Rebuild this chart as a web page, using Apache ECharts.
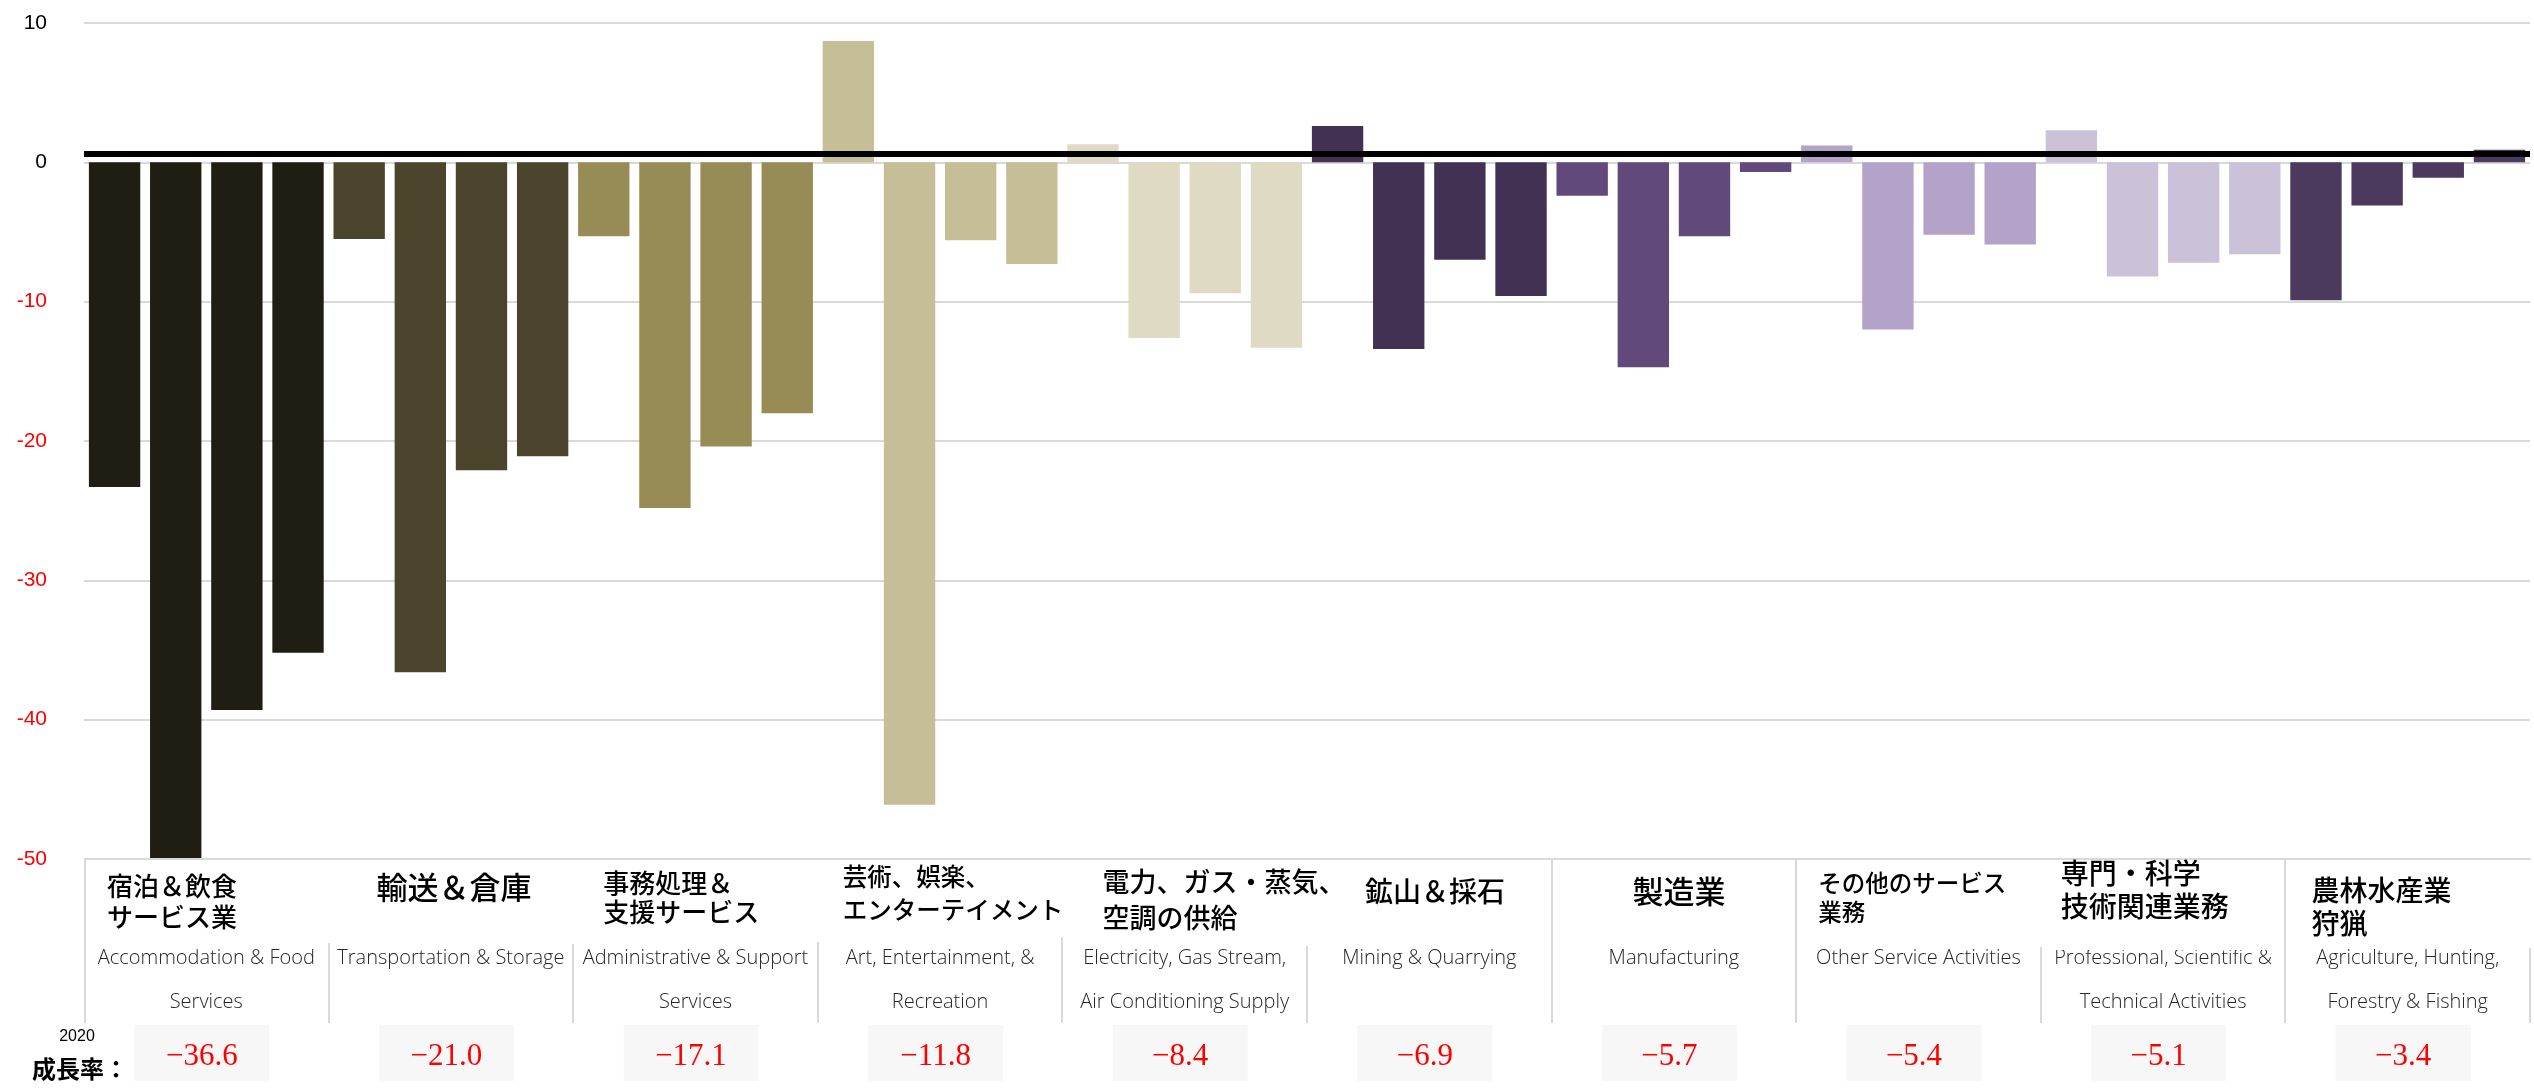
<!DOCTYPE html>
<html>
<head>
<meta charset="utf-8">
<script src="https://cdn.jsdelivr.net/npm/echarts@6/dist/echarts.min.js"></script>
<style>
html,body{margin:0;padding:0;background:#fff;}
#chart{width:2534px;height:1089px;}
</style>
</head>
<body>
<div id="chart"></div>
<script>
// ---------- DATA ----------
const sectorsJa = [
  ["宿泊＆飲食", "サービス業"],
  ["輸送＆倉庫"],
  ["事務処理＆", "支援サービス"],
  ["芸術、娯楽、", "エンターテイメント"],
  ["電力、ガス・蒸気、", "空調の供給"],
  ["鉱山＆採石"],
  ["製造業"],
  ["その他のサービス", "業務"],
  ["専門・科学", "技術関連業務"],
  ["農林水産業", "狩猟"]
];
const sectorsEn = [
  ["Accommodation & Food", "Services"],
  ["Transportation & Storage"],
  ["Administrative & Support", "Services"],
  ["Art, Entertainment, &", "Recreation"],
  ["Electricity, Gas Stream,", "Air Conditioning Supply"],
  ["Mining & Quarrying"],
  ["Manufacturing"],
  ["Other Service Activities"],
  ["Professional, Scientific &", "Technical Activities"],
  ["Agriculture, Hunting,", "Forestry & Fishing"]
];
const quarters = ["Q1", "Q2", "Q3", "Q4"];

// quarterly growth (%), 4 bars per sector
const accommodation = [-23.3, -51.0, -39.3, -35.2];
const transportation = [-5.5, -36.6, -22.1, -21.1];
const administrative = [-5.3, -24.8, -20.4, -18.0];
const artEntertainment = [8.7, -46.1, -5.6, -7.3];
const electricityGas = [1.3, -12.6, -9.4, -13.3];
const miningQuarrying = [2.6, -13.4, -7.0, -9.6];
const manufacturing = [-2.4, -14.7, -5.3, -0.7];
const otherServices = [1.2, -12.0, -5.2, -5.9];
const professional = [2.3, -8.2, -7.2, -6.6];
const agriculture = [-9.9, -3.1, -1.1, 0.9];
const quarterlyGrowth = [accommodation, transportation, administrative, artEntertainment,
  electricityGas, miningQuarrying, manufacturing, otherServices, professional, agriculture];

// 2020 annual growth rate per sector
const annualGrowth = [-36.6, -21.0, -17.1, -11.8, -8.4, -6.9, -5.7, -5.4, -5.1, -3.4];

// y axis ticks
const yMin = -50, yMax = 10, yStep = 10;
const referenceLine = 0.6;
const yearLabel = "2020";
const rowLabel = "成長率：";

// ---------- STYLE / LAYOUT ----------
const sectorColors = ["#201e12", "#4b452d", "#978c55", "#c6be97", "#dfdac3",
  "#413153", "#614a7b", "#b3a3c8", "#cbc1d9", "#4b3a5e"];
const G = { left: 84, right: 4, top: 23, bottom: 230 };
const cellW = (2534 - G.left - G.right) / sectorsJa.length;
// japanese title: [offset from cell left, first-line centre y, font size, line height]
const titleLayout = [
  [23, 886, 26, 31], [48, 887, 31, 0], [30, 883, 26, 29], [25, 877, 24.5, 33],
  [40, 882, 27, 36], [58, 891, 28, 0], [81, 891, 31, 0], [22, 883, 23.5, 29],
  [20, 873, 28, 33], [26, 890, 28, 33]
];
const gridGray = "#d9d9d9";

// ---------- BUILD ----------
const categories = [];
const barData = [];
sectorsEn.forEach((s, i) => {
  quarters.forEach((q, j) => {
    categories.push(s.join(" ") + " " + q);
    barData.push({ value: quarterlyGrowth[i][j], itemStyle: { color: sectorColors[i] } });
  });
});

const graphics = [];
const cellLeft = i => G.left + cellW * i;
// english labels
sectorsEn.forEach((lines, i) => {
  const cx = cellLeft(i) + cellW / 2;
  lines.forEach((t, k) => {
    graphics.push({
      type: "text", x: cx, y: 958 + k * 44, z: 10,
      style: { text: t, fontSize: 20, fontFamily: "Open Sans", fontWeight: 300,
        fill: "#262626", align: "center", verticalAlign: "middle" }
    });
  });
});
// white panel covering the top of the Professional label
graphics.push({ type: "rect", z: 11, shape: { x: cellLeft(8) + 3, y: 861, width: cellW - 6, height: 89 },
  style: { fill: "#fff" } });
// panel border segments
const hSegs = [[84, 357], [1403, 1797], [2035, 2041], [2277, 2531]];
hSegs.forEach(s => graphics.push({ type: "line", z: 12,
  shape: { x1: s[0], y1: 859, x2: s[1], y2: 859 }, style: { stroke: gridGray, lineWidth: 2 } }));
const vTops = [859, 943, 944, 942, 937, 946, 859, 859, 947, 859, 948];
vTops.forEach((t, i) => {
  const x = Math.round(cellLeft(i)) + (i === 0 ? 1 : 0);
  graphics.push({ type: "line", z: 12, shape: { x1: x, y1: t, x2: x, y2: 1023 },
    style: { stroke: gridGray, lineWidth: 2 } });
});
// japanese titles
sectorsJa.forEach((lines, i) => {
  const L = titleLayout[i];
  lines.forEach((t, k) => {
    graphics.push({
      type: "text", x: cellLeft(i) + L[0], y: L[1] + k * L[3], z: 13,
      style: { text: t, fontSize: L[2], fontFamily: "Noto Sans CJK JP", fontWeight: 500,
        fill: "#000", align: "left", verticalAlign: "middle" }
    });
  });
});
// growth boxes
annualGrowth.forEach((v, i) => {
  const cx = cellLeft(i) + cellW / 2 - 4.5;
  graphics.push({ type: "rect", z: 10, shape: { x: cx - 67.5, y: 1025, width: 135, height: 56 },
    style: { fill: "#f7f7f7" } });
  graphics.push({ type: "text", x: cx, y: 1057, z: 11,
    style: { text: (v < 0 ? "−" : "") + Math.abs(v).toFixed(1), fontSize: 31,
      fontFamily: "Liberation Serif", fill: "#ff0000", align: "center", verticalAlign: "middle" } });
});
graphics.push({ type: "text", x: 77, y: 1037, z: 10,
  style: { text: yearLabel, fontSize: 16, fontFamily: "Liberation Sans", fill: "#000",
    align: "center", verticalAlign: "middle" } });
graphics.push({ type: "text", x: 32, y: 1069, z: 10,
  style: { text: rowLabel, fontSize: 24, fontWeight: "bold", fontFamily: "Noto Sans CJK JP",
    fill: "#000", align: "left", verticalAlign: "middle" } });

const chart = echarts.init(document.getElementById("chart"), null, { renderer: "canvas" });
chart.setOption({
  animation: false,
  backgroundColor: "#fff",
  grid: { left: G.left, right: G.right, top: G.top, bottom: G.bottom, containLabel: false },
  xAxis: {
    type: "category", data: categories,
    axisLine: { show: false }, axisTick: { show: false }, axisLabel: { show: false },
    splitLine: { show: false }
  },
  yAxis: {
    type: "value", min: yMin, max: yMax, interval: yStep,
    axisLine: { show: false }, axisTick: { show: false },
    axisLabel: {
      fontSize: 21, fontFamily: "Liberation Sans", margin: 37,
      color: v => (v < 0 ? "#ff0000" : "#000")
    },
    splitLine: { lineStyle: { color: gridGray, width: 2 } }
  },
  series: [{
    type: "bar", data: barData, barCategoryGap: "16%",
    markLine: {
      silent: true, symbol: "none", label: { show: false },
      lineStyle: { color: "#000", width: 6, type: "solid" },
      data: [{ yAxis: referenceLine }]
    }
  }],
  graphic: { elements: graphics }
});
</script>
</body>
</html>
